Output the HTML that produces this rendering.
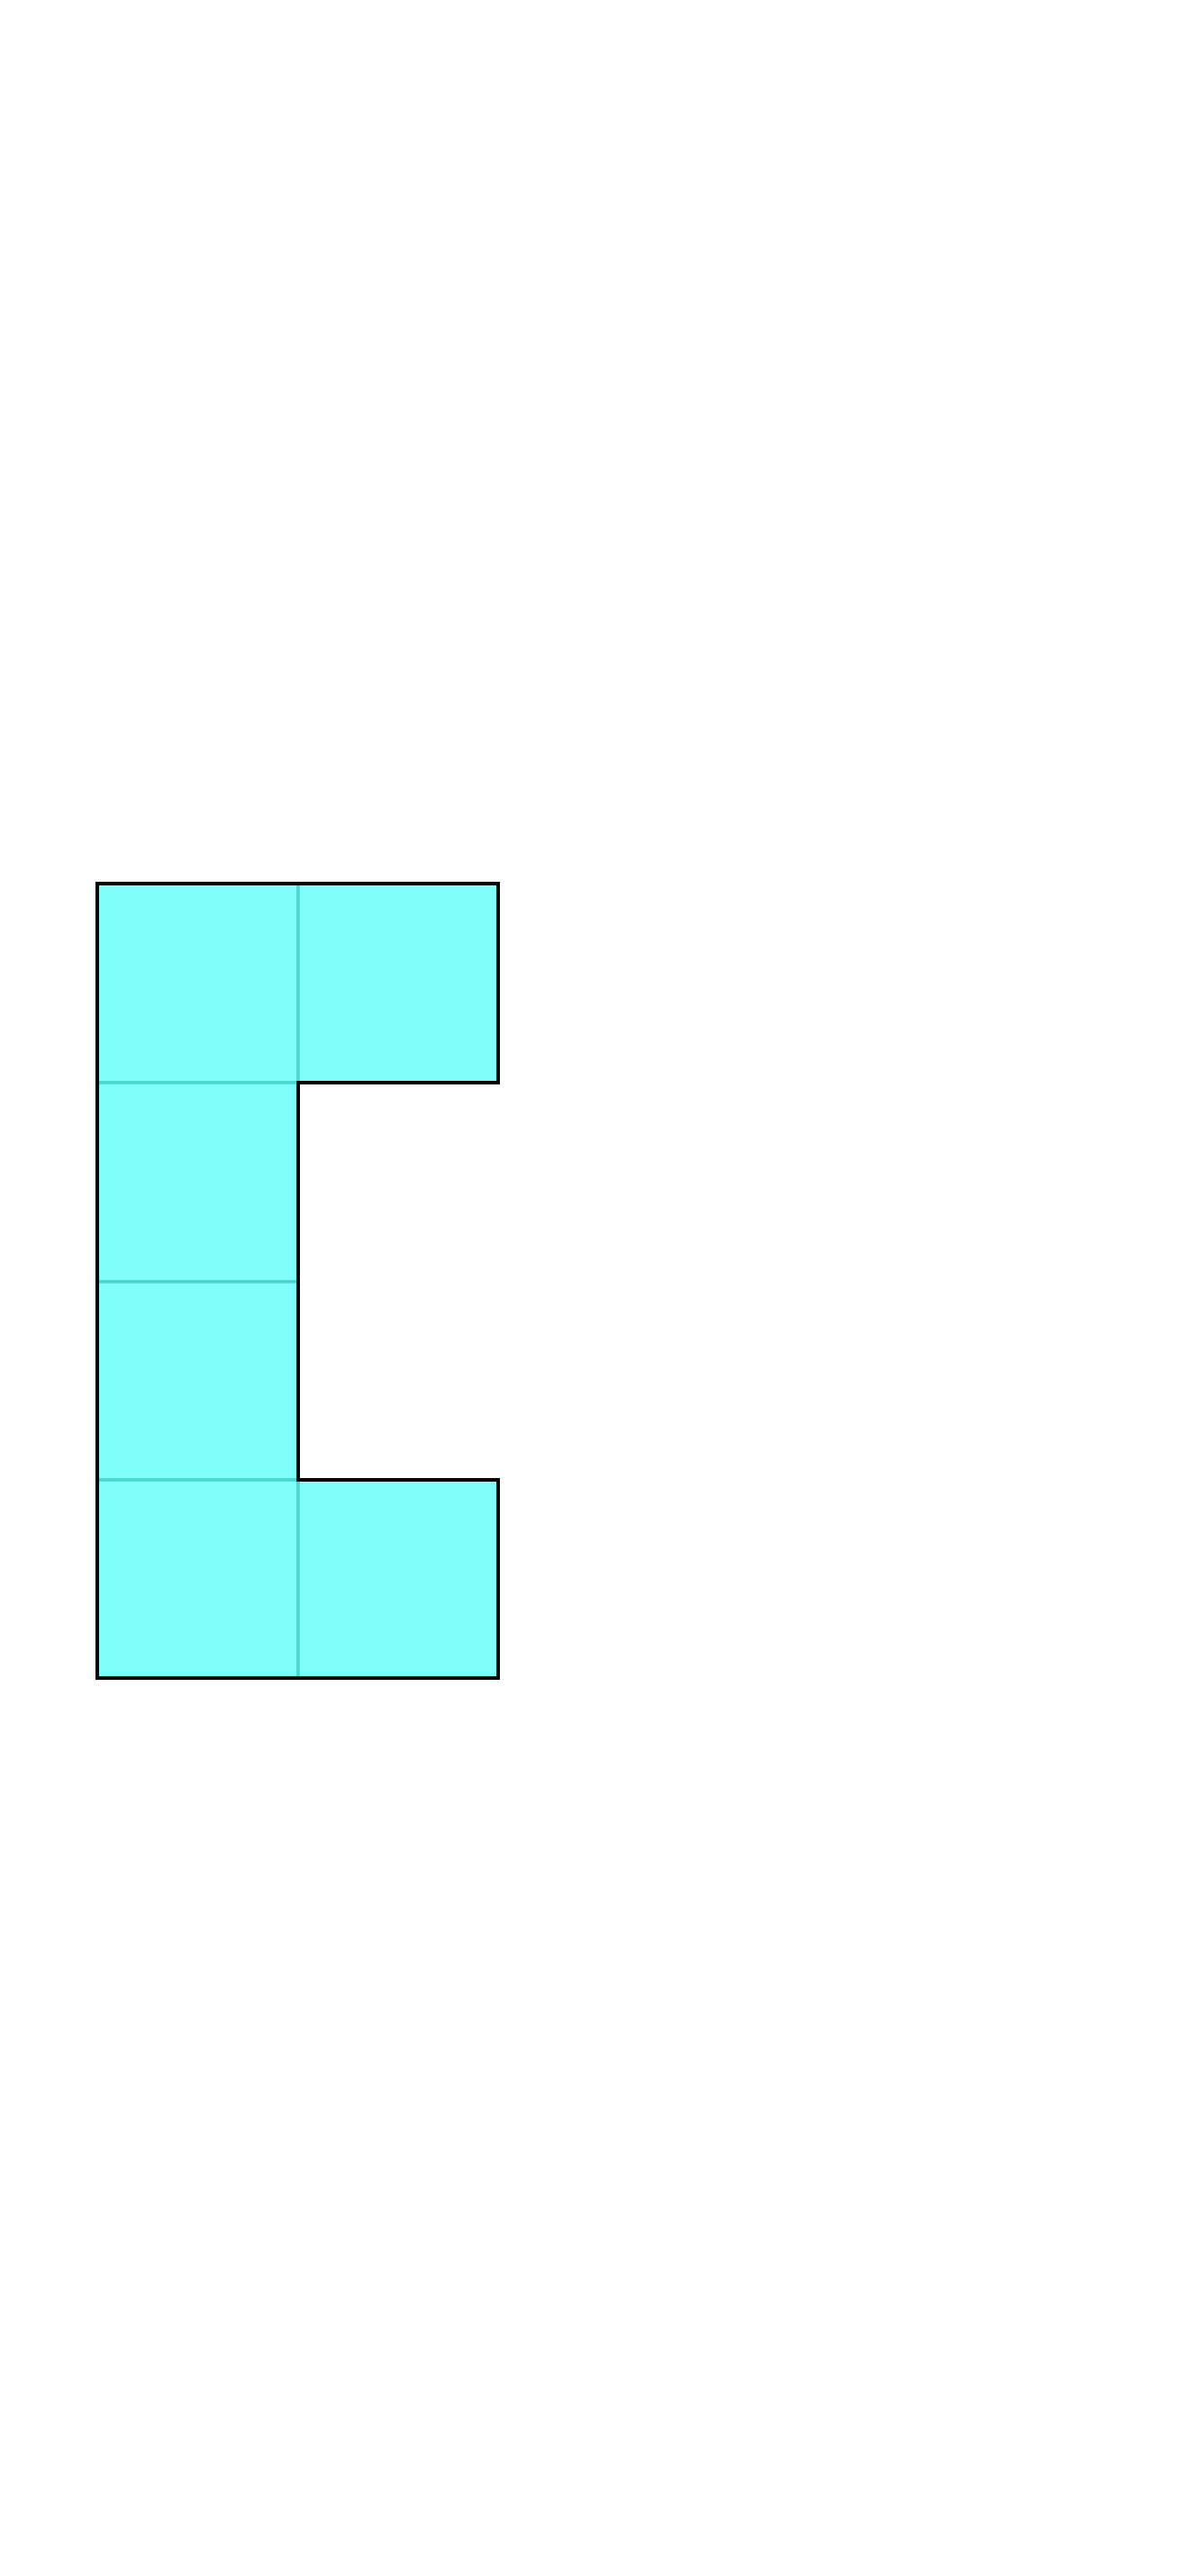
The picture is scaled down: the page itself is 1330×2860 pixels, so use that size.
<!DOCTYPE html>
<html>
<head>
<meta charset="utf-8">
<style>
  html,body{margin:0;padding:0;background:#fefefe;}
  svg{display:block;}
</style>
</head>
<body>
<svg id="chart" width="1330" height="2860" viewBox="0 0 1330 2860" xmlns="http://www.w3.org/2000/svg">
  <rect x="0" y="0" width="1330" height="2860" fill="#fefefe"/>
  <g id="cells"></g>
  <g id="outline"></g>
</svg>
<script>
// grid cells filled: [col, row]
const cellCols = [0, 1, 0, 0, 0, 1];
const cellRows = [0, 0, 1, 2, 3, 3];
// grid scale
const colEdges = [108, 331, 553];
const rowEdges = [981, 1202, 1423, 1643, 1863];

const NS = 'http://www.w3.org/2000/svg';
const xAt = c => colEdges[c];
const yAt = r => rowEdges[r];
const cellsG = document.getElementById('cells');
for (let i = 0; i < cellCols.length; i++) {
  const c = cellCols[i], r = cellRows[i];
  const rect = document.createElementNS(NS, 'rect');
  rect.setAttribute('x', xAt(c));
  rect.setAttribute('y', yAt(r));
  rect.setAttribute('width', xAt(c + 1) - xAt(c));
  rect.setAttribute('height', yAt(r + 1) - yAt(r));
  rect.setAttribute('fill', '#80fffa');
  rect.setAttribute('stroke', '#48d6ce');
  rect.setAttribute('stroke-width', '3.5');
  
  
  cellsG.appendChild(rect);
}
// outline of the union shape
const filled = new Set(cellCols.map((c, i) => c + ',' + cellRows[i]));
const has = (c, r) => filled.has(c + ',' + r);
const outG = document.getElementById('outline');
let d = '';
for (let i = 0; i < cellCols.length; i++) {
  const c = cellCols[i], r = cellRows[i];
  const x0 = xAt(c), x1 = xAt(c + 1), y0 = yAt(r), y1 = yAt(r + 1);
  if (!has(c, r - 1)) d += `M${x0},${y0}L${x1},${y0}`;
  if (!has(c, r + 1)) d += `M${x0},${y1}L${x1},${y1}`;
  if (!has(c - 1, r)) d += `M${x0},${y0}L${x0},${y1}`;
  if (!has(c + 1, r)) d += `M${x1},${y0}L${x1},${y1}`;
}
const path = document.createElementNS(NS, 'path');
path.setAttribute('d', d);
path.setAttribute('fill', 'none');
path.setAttribute('stroke', '#000');
path.setAttribute('stroke-width', '4');
path.setAttribute('stroke-linecap', 'square');


outG.appendChild(path);
</script>
</body>
</html>
